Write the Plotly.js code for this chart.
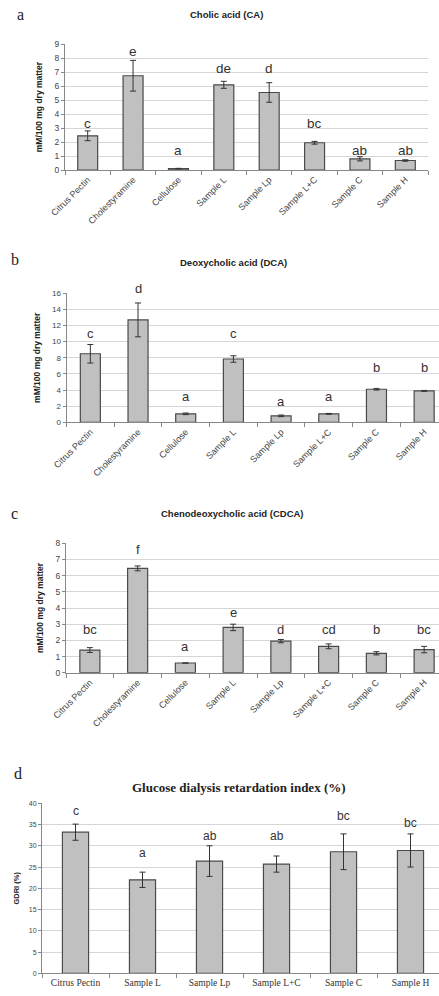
<!DOCTYPE html>
<html><head><meta charset="utf-8">
<script src="https://cdn.plot.ly/plotly-3.0.1.min.js"></script>
<style>html,body{margin:0;padding:0;overflow:hidden;background:#fff}#chart{width:452px;height:996px}</style>
</head><body><div id="chart"></div>
<script>
// ---- data ----
const catsABC = ['Citrus Pectin','Cholestyramine','Cellulose','Sample L','Sample Lp','Sample L+C','Sample C','Sample H'];
const caValues = [2.45, 6.75, 0.1, 6.1, 5.55, 1.95, 0.8, 0.68];
const caErrors = [0.35, 1.1, 0.02, 0.25, 0.7, 0.1, 0.15, 0.05];
const caLetters = ['c','e','a','de','d','bc','ab','ab'];
const caLetterY = [3.3, 8.5, 1.4, 7.3, 7.3, 3.3, 1.4, 1.4];

const dcaValues = [8.5, 12.7, 1.05, 7.85, 0.8, 1.05, 4.1, 3.9];
const dcaErrors = [1.15, 2.1, 0.1, 0.4, 0.1, 0.05, 0.1, 0.05];
const dcaLetters = ['c','d','a','c','a','a','b','b'];
const dcaLetterY = [11, 16.6, 3.2, 11, 2.6, 3.2, 6.8, 6.8];

const cdcaValues = [1.4, 6.45, 0.6, 2.8, 1.95, 1.63, 1.2, 1.43];
const cdcaErrors = [0.15, 0.15, 0, 0.2, 0.1, 0.15, 0.1, 0.2];
const cdcaLetters = ['bc','f','a','e','d','cd','b','bc'];
const cdcaLetterY = [2.7, 7.6, 1.6, 3.7, 2.7, 2.7, 2.7, 2.7];

const catsD = ['Citrus Pectin','Sample L','Sample Lp','Sample L+C','Sample C','Sample H'];
const gdriValues = [33.2, 22.0, 26.4, 25.7, 28.6, 28.9];
const gdriErrors = [1.9, 1.8, 3.6, 1.9, 4.2, 3.9];
const gdriLetters = ['c','a','ab','ab','bc','bc'];
const gdriLetterY = [38.3, 28.4, 32.3, 32.3, 37.1, 35.3];

// ---- styling ----
const W = 452, H = 996;
const px = v => v / W;
const py = v => (H - v) / H;
const barFill = '#c0c0c0', barLine = '#4a4a4a';
const sans = 'Liberation Sans, Arial, sans-serif';
const serif = 'Liberation Serif, Times New Roman, serif';

function barTrace(x, y, err, xa, ya, width) {
  return {
    type: 'bar', x: x, y: y, xaxis: xa, yaxis: ya, width: width,
    marker: {color: barFill, line: {color: barLine, width: 1.2}},
    error_y: {type: 'data', array: err, visible: true, color: '#333', thickness: 1, width: 3},
    hoverinfo: 'skip', showlegend: false
  };
}

const data = [
  barTrace(catsABC, caValues, caErrors, 'x', 'y', 0.44),
  barTrace(catsABC, dcaValues, dcaErrors, 'x2', 'y2', 0.42),
  barTrace(catsABC, cdcaValues, cdcaErrors, 'x3', 'y3', 0.42),
  barTrace(catsD, gdriValues, gdriErrors, 'x4', 'y4', 0.39)
];

function xAxis(domain, anchor, angle, font) {
  return {
    domain: domain, anchor: anchor, type: 'category', tickangle: angle,
    showline: true, linecolor: '#888', linewidth: 1,
    ticks: 'outside', tickson: 'boundaries', ticklen: 4, tickcolor: '#888',
    tickfont: font, showgrid: false, zeroline: false, fixedrange: true
  };
}
function yAxis(domain, anchor, range, dtick, title, tickSize, titleSize, standoff) {
  return {
    domain: domain, anchor: anchor, range: range, dtick: dtick,
    showline: true, linecolor: '#888', linewidth: 1,
    ticks: 'outside', ticklen: 3, tickcolor: '#888',
    tickfont: {family: sans, size: tickSize, color: '#444'},
    showgrid: true, gridcolor: '#d6d6d6', gridwidth: 1, zeroline: false,
    title: {text: title, font: {family: sans, size: titleSize, color: '#222', weight: 'bold'}, standoff: standoff},
    fixedrange: true
  };
}

const rotFont = {family: sans, size: 9, color: '#444'};
const layout = {
  width: W, height: H, margin: {l: 0, r: 0, t: 0, b: 0},
  paper_bgcolor: '#fff', plot_bgcolor: '#fff', bargap: 0.55,
  xaxis:  xAxis([px(65), px(428)], 'y', -45, rotFont),
  yaxis:  yAxis([py(170), py(44.3)], 'x', [0, 9], 1, 'mM/100 mg dry matter', 8.5, 8.5, 10),
  xaxis2: xAxis([px(66.5), px(448)], 'y2', -45, rotFont),
  yaxis2: yAxis([py(422.3), py(293.3)], 'x2', [0, 16], 2, 'mM/100 mg dry matter', 8, 8.5, 10),
  xaxis3: xAxis([px(66), px(448)], 'y3', -45, rotFont),
  yaxis3: yAxis([py(672.7), py(543.3)], 'x3', [0, 8], 1, 'mM/100 mg dry matter', 8.5, 8.5, 10),
  xaxis4: xAxis([px(42), px(444)], 'y4', 0, {family: serif, size: 9.5, color: '#333'}),
  yaxis4: yAxis([py(973.3), py(803.3)], 'x4', [0, 40], 5, 'GDRI (%)', 7, 7.5, 8),
  annotations: []
};

// letters placed in axis-domain units so letters above the axis top are still drawn
function addLetters(cats, letters, ys, xa, yaxisKey, size) {
  const top = layout[yaxisKey].range[1];
  const yref = (yaxisKey === 'yaxis' ? 'y' : 'y' + yaxisKey.slice(5)) + ' domain';
  cats.forEach((c, i) => {
    layout.annotations.push({
      x: c, y: ys[i] / top, xref: xa, yref: yref, text: letters[i], showarrow: false,
      yanchor: 'middle', font: {family: sans, size: size, color: '#333'}
    });
  });
}
addLetters(catsABC, caLetters, caLetterY, 'x', 'yaxis', 13.5);
addLetters(catsABC, dcaLetters, dcaLetterY, 'x2', 'yaxis2', 13);
addLetters(catsABC, cdcaLetters, cdcaLetterY, 'x3', 'yaxis3', 13);
addLetters(catsD, gdriLetters, gdriLetterY, 'x4', 'yaxis4', 12);

function paperText(text, x, y, font, xanchor) {
  layout.annotations.push({text: text, x: px(x), y: py(y), xref: 'paper', yref: 'paper',
    showarrow: false, xanchor: xanchor || 'center', yanchor: 'middle', font: font});
}
// chart titles
paperText('Cholic acid (CA)', 227, 15, {family: sans, size: 9.5, color: '#222', weight: 'bold'});
paperText('Deoxycholic acid (DCA)', 233, 263, {family: sans, size: 9.5, color: '#222', weight: 'bold'});
paperText('Chenodeoxycholic acid (CDCA)', 232, 513, {family: sans, size: 9.5, color: '#222', weight: 'bold'});
paperText('Glucose dialysis retardation index (%)', 239, 787, {family: serif, size: 13, color: '#222', weight: 'bold'});
// panel letters
paperText('a', 20, 15, {family: serif, size: 16, color: '#222'});
paperText('b', 15, 259, {family: serif, size: 16, color: '#222'});
paperText('c', 14, 513, {family: serif, size: 16, color: '#222'});
paperText('d', 18, 773, {family: serif, size: 16, color: '#222'});

Plotly.newPlot('chart', data, layout, {staticPlot: true, displayModeBar: false});
</script></body></html>
